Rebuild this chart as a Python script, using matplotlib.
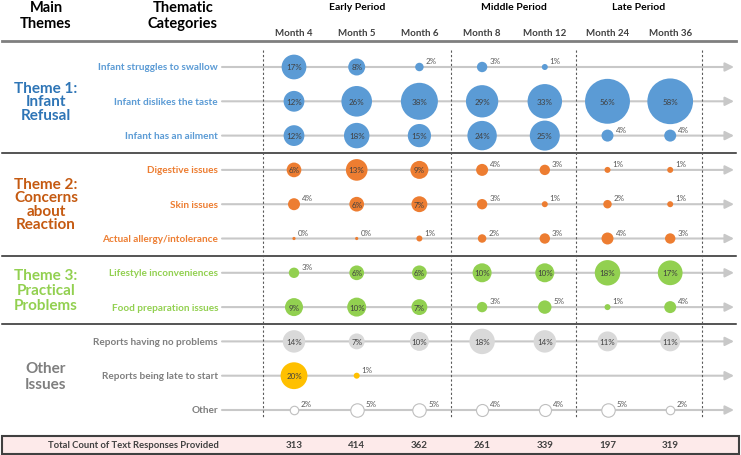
import numpy as np
import matplotlib.pyplot as plt
from matplotlib.patches import Rectangle

plt.rcParams['font.family'] = ['Lato', 'DejaVu Sans']

# ------------------ DATA ------------------

months = ['Month 4', 'Month 5', 'Month 6', 'Month 8', 'Month 12', 'Month 24', 'Month 36']
periods = ['Early Period', 'Middle Period', 'Late Period']
period_cols = [(0, 2), (3, 4), (5, 6)]

themes = ['Theme 1:\nInfant\nRefusal', 'Theme 2:\nConcerns\nabout\nReaction',
          'Theme 3:\nPractical\nProblems', 'Other\nIssues']
theme_rows = [(0, 2), (3, 5), (6, 7), (8, 10)]

categories = ['Infant struggles to swallow', 'Infant dislikes the taste', 'Infant has an ailment',
              'Digestive issues', 'Skin issues', 'Actual allergy/intolerance',
              'Lifestyle inconveniences', 'Food preparation issues',
              'Reports having no problems', 'Reports being late to start', 'Other']

nan = np.nan
swallow = [17, 8, 2, 3, 1, nan, nan]
taste = [12, 26, 38, 29, 33, 56, 58]
ailment = [12, 18, 15, 24, 25, 4, 4]
digestive = [6, 13, 9, 4, 3, 1, 1]
skin = [4, 6, 7, 3, 1, 2, 1]
allergy = [0, 0, 1, 2, 3, 4, 3]
lifestyle = [3, 6, 6, 10, 10, 18, 17]
food_prep = [9, 10, 7, 3, 5, 1, 4]
no_problems = [14, 7, 10, 18, 14, 11, 11]
late_start = [20, 1, nan, nan, nan, nan, nan]
other = [2, 5, 5, 4, 4, 5, 2]

totals = [313, 414, 362, 261, 339, 197, 319]

values = np.array([swallow, taste, ailment, digestive, skin, allergy,
                   lifestyle, food_prep, no_problems, late_start, other], dtype=float)

# ------------------ STYLE ------------------

theme_colors = ['#2e75b6', '#c55a11', '#92d050', '#7f7f7f']
label_colors = ['#5b9bd5'] * 3 + ['#ed7d31'] * 3 + ['#92d050'] * 2 + ['#7f7f7f'] * 3
dot_colors = ['#5b9bd5'] * 3 + ['#ed7d31'] * 3 + ['#92d050'] * 2 + ['#d9d9d9', '#ffc000', 'white']
dot_edges = ['none'] * 10 + ['#bfbfbf']
theme_spacing = [0.95, 0.95, 1.1, 1.2]

# layout in pixels
col_x0, col_dx = 294, 62.7
row_y0, row_dy = 68, 34.3
col_x = col_x0 + col_dx * np.arange(len(months))
row_y = row_y0 + row_dy * np.arange(len(categories))

fig = plt.figure(figsize=(7.41, 4.56), dpi=100)
ax = fig.add_axes([0, 0, 1, 1])
ax.set_xlim(0, 741)
ax.set_ylim(456, 0)
ax.axis('off')

# header
ax.text(46, 16, 'Main\nThemes', ha='center', va='center', fontsize=10.5,
        fontweight='bold', linespacing=1.15)
ax.text(183, 16, 'Thematic\nCategories', ha='center', va='center', fontsize=10.5,
        fontweight='bold', linespacing=1.15)
for name, (a, b) in zip(periods, period_cols):
    ax.text((col_x[a] + col_x[b]) / 2, 7, name, ha='center', va='center',
            fontsize=7.5, fontweight='bold')
for x, m in zip(col_x, months):
    ax.text(x, 33, m, ha='center', va='center', fontsize=7, fontweight='bold', color='#404040')

ax.plot([2, 736], [42, 42], color='#7f7f7f', lw=2)

# group separators
for a, b in theme_rows[:-1]:
    y = (row_y[b] + row_y[b + 1]) / 2
    ax.plot([2, 736], [y, y], color='#262626', lw=1.1)

# period dividers
for a, b in period_cols:
    ax.plot([col_x[a] - col_dx / 2] * 2, [51, 419], color='#595959', lw=0.8, ls=(0, (2, 2)))
ax.plot([col_x[-1] + col_dx / 2] * 2, [51, 419], color='#595959', lw=0.8, ls=(0, (2, 2)))

# theme labels
for t, (a, b), c, ls in zip(themes, theme_rows, theme_colors, theme_spacing):
    ax.text(46, (row_y[a] + row_y[b]) / 2, t, ha='center', va='center', fontsize=11,
            fontweight='bold', color=c, linespacing=ls)

# rows
for i, cat in enumerate(categories):
    y = row_y[i]
    ax.text(218, y, cat, ha='right', va='center', fontsize=7.2, fontweight='bold',
            color=label_colors[i])
    ax.annotate('', xy=(734, y), xytext=(222, y),
                arrowprops=dict(arrowstyle='-|>', color='#c8c8c8', lw=1.5,
                                mutation_scale=13, shrinkA=0, shrinkB=0), zorder=1)
    for j, v in enumerate(values[i]):
        if np.isnan(v):
            continue
        d = max(6 * np.sqrt(v), 3.2)
        ax.scatter(col_x[j], y, s=(d * 0.72) ** 2, color=dot_colors[i],
                   edgecolors=dot_edges[i], linewidths=0.8, zorder=3)
        if v >= 6:
            ax.text(col_x[j], y, '%d%%' % v, ha='center', va='center', fontsize=5.8,
                    color='#404040', zorder=4)
        else:
            ax.annotate('%d%%' % v, (col_x[j], y), xytext=((d / 2 + 2) * 0.72, 4.5),
                        textcoords='offset points', ha='left', va='center',
                        fontsize=5.8, color='#595959', zorder=4)

# totals
ax.add_patch(Rectangle((2, 437), 737, 18, facecolor='#fdeaea', edgecolor='#404040', lw=1.5))
ax.text(133, 446, 'Total Count of Text Responses Provided', ha='center', va='center',
        fontsize=6.8, fontweight='bold', color='#404040')
for x, n in zip(col_x, totals):
    ax.text(x, 446, str(n), ha='center', va='center', fontsize=7, fontweight='bold',
            color='#404040')

fig.savefig('out.png', dpi=100)
